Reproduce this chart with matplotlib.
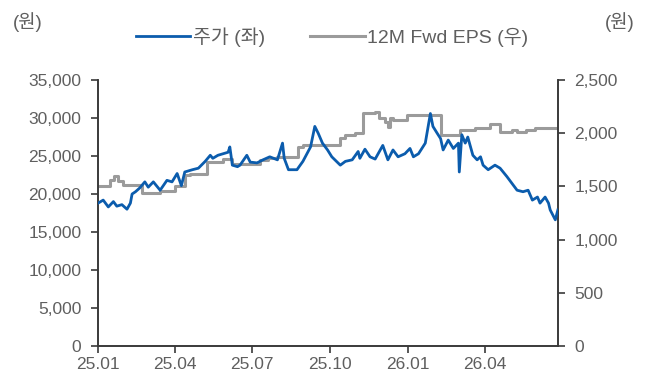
import matplotlib
matplotlib.use("Agg")
import matplotlib.pyplot as plt
import matplotlib.dates as mdates
import numpy as np
import pandas as pd

plt.rcParams['font.family'] = ['Liberation Sans', 'Noto Sans CJK KR']

# 주가 (원)
price_dates = [
    "2025-01-01", "2025-01-07", "2025-01-13", "2025-01-19", "2025-01-23", "2025-01-29",
    "2025-02-04", "2025-02-08", "2025-02-10", "2025-02-14", "2025-02-19", "2025-02-25",
    "2025-03-01", "2025-03-07", "2025-03-15", "2025-03-23", "2025-03-29", "2025-04-04",
    "2025-04-09", "2025-04-13", "2025-04-22", "2025-04-29", "2025-05-07", "2025-05-13",
    "2025-05-16", "2025-05-22", "2025-05-28", "2025-06-03", "2025-06-05", "2025-06-08",
    "2025-06-14", "2025-06-17", "2025-06-25", "2025-06-29", "2025-07-07", "2025-07-14",
    "2025-07-22", "2025-07-31", "2025-08-06", "2025-08-08", "2025-08-13", "2025-08-23",
    "2025-08-30", "2025-09-08", "2025-09-13", "2025-09-17", "2025-09-22", "2025-09-28",
    "2025-10-03", "2025-10-13", "2025-10-19", "2025-10-27", "2025-11-03", "2025-11-05",
    "2025-11-11", "2025-11-17", "2025-11-23", "2025-12-02", "2025-12-08", "2025-12-14",
    "2025-12-20", "2025-12-28", "2026-01-03", "2026-01-07", "2026-01-13", "2026-01-21",
    "2026-01-27", "2026-01-30", "2026-02-04", "2026-02-08", "2026-02-11", "2026-02-17",
    "2026-02-23", "2026-03-01", "2026-03-02", "2026-03-05", "2026-03-09", "2026-03-12",
    "2026-03-18", "2026-03-23", "2026-03-27", "2026-03-30", "2026-04-05", "2026-04-13",
    "2026-04-19", "2026-04-27", "2026-05-03", "2026-05-09", "2026-05-16", "2026-05-22",
    "2026-05-27", "2026-06-02", "2026-06-05", "2026-06-11", "2026-06-15", "2026-06-17",
    "2026-06-23", "2026-06-26",
]
price = [
    18800, 19200, 18300, 19000, 18400, 18600,
    18000, 18800, 20000, 20300, 20800, 21600,
    20900, 21600, 20500, 21800, 21600, 22700,
    21100, 22900, 23200, 23400, 24300, 25100,
    24700, 25100, 25300, 25500, 26200, 23800,
    23600, 23800, 25100, 24200, 24100, 24500,
    24900, 24500, 26700, 24700, 23200, 23200,
    24300, 26200, 28900, 28000, 26700, 25800,
    24900, 23800, 24300, 24500, 25600, 24700,
    25900, 24900, 24600, 26400, 24500, 25800,
    24900, 25300, 26000, 24900, 25300, 26700,
    30600, 28900, 28000, 27300, 25800, 27100,
    26000, 26700, 22900, 27800, 26700, 27500,
    25100, 24500, 24900, 23800, 23200, 23800,
    23400, 22300, 21400, 20500, 20300, 20500,
    19200, 19600, 18800, 19600, 18800, 17900,
    16600, 17900,
]

# 12M Fwd EPS (원), 변경일 기준
eps_dates = [
    "2025-01-01", "2025-01-15", "2025-01-20", "2025-01-25", "2025-01-30", "2025-02-22",
    "2025-03-15", "2025-04-02", "2025-04-13", "2025-04-19", "2025-05-09", "2025-05-28",
    "2025-06-08", "2025-07-11", "2025-07-20", "2025-07-31", "2025-08-24", "2025-08-30",
    "2025-10-13", "2025-10-19", "2025-10-30", "2025-11-09", "2025-11-23", "2025-11-27",
    "2025-12-05", "2025-12-08", "2025-12-11", "2025-12-14", "2025-12-31", "2026-02-09",
    "2026-03-03", "2026-03-21", "2026-04-07", "2026-04-19", "2026-05-03", "2026-05-09",
    "2026-05-19", "2026-05-30", "2026-06-26",
]
eps = [
    1500, 1565, 1600, 1550, 1515, 1440,
    1460, 1505, 1607, 1620, 1725, 1755,
    1711, 1748, 1764, 1775, 1875, 1890,
    1952, 1983, 2000, 2190, 2200, 2140,
    2108, 2061, 2140, 2124, 2171, 1983,
    2030, 2046, 2086, 2014, 2030, 2008,
    2030, 2046, 2046,
]

x_ticks = ["2025-01-01", "2025-04-01", "2025-07-01", "2025-10-01", "2026-01-01", "2026-04-01"]

blue = "#0b5cad"
grey = "#9b9b9b"
txt = "#5f5f5f"
spine = "#3a3a3a"

fig = plt.figure(figsize=(6.54, 3.76), dpi=100)
ax = fig.add_axes([0.150, 0.080, 0.703, 0.707])
ax2 = ax.twinx()

p_dates = pd.to_datetime(price_dates)
e_dates = pd.to_datetime(eps_dates)

ax.plot(p_dates, price, color=blue, lw=2.0, label="주가 (좌)", zorder=3)
ax2.plot(e_dates, eps, color=grey, lw=2.2, drawstyle="steps-post", label="12M Fwd EPS (우)")

# 주가 선을 EPS 위에 그리기
ax.set_zorder(ax2.get_zorder() + 1)
ax.patch.set_visible(False)

ax.set_xlim(pd.Timestamp("2025-01-01"), pd.Timestamp("2026-06-26"))
ax.set_ylim(0, 35000)
ax2.set_ylim(0, 2500)
ax.set_yticks(np.arange(0, 35001, 5000))
ax2.set_yticks(np.arange(0, 2501, 500))
ax.yaxis.set_major_formatter(matplotlib.ticker.FuncFormatter(lambda v, p: f"{int(v):,}"))
ax2.yaxis.set_major_formatter(matplotlib.ticker.FuncFormatter(lambda v, p: f"{int(v):,}"))
ax.set_xticks(pd.to_datetime(x_ticks))
ax.xaxis.set_major_formatter(mdates.DateFormatter("%y.%m"))

for a in (ax, ax2):
    a.spines["top"].set_visible(False)
    for s in ("left", "right", "bottom"):
        a.spines[s].set_color(spine)
        a.spines[s].set_linewidth(1.2)
    a.tick_params(colors=spine, labelcolor=txt, labelsize=12.5, length=5, width=1.2, pad=7)
ax.tick_params(axis="x", labelsize=12.5, pad=3)

fig.text(0.020, 0.941, "(원)", fontsize=13.5, color=txt, va="center")
fig.text(0.925, 0.941, "(원)", fontsize=13.5, color=txt, va="center")

h1, l1 = ax.get_legend_handles_labels()
h2, l2 = ax2.get_legend_handles_labels()
fig.legend(h1 + h2, l1 + l2, loc="center", bbox_to_anchor=(0.508, 0.902), ncol=2,
           frameon=False, fontsize=14, labelcolor=txt, handlelength=2.8,
           handletextpad=0.15, columnspacing=2.3)

fig.savefig("out.png", dpi=100)
